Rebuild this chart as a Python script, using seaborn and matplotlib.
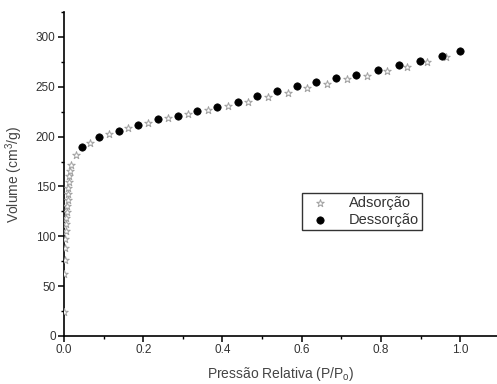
import numpy as np
import pandas as pd
import matplotlib
matplotlib.use("Agg")
import matplotlib.pyplot as plt
import seaborn as sns
from matplotlib.ticker import MultipleLocator

# Adsorption (open stars)
ads_p = [0.0005, 0.001, 0.0015, 0.002, 0.003, 0.004, 0.005, 0.006, 0.007, 0.008,
         0.009, 0.010, 0.011, 0.012, 0.013, 0.015, 0.017, 0.030, 0.066, 0.114,
         0.162, 0.213, 0.263, 0.313, 0.364, 0.414, 0.465, 0.515, 0.566, 0.614,
         0.664, 0.715, 0.765, 0.816, 0.866, 0.917, 0.965]
ads_v = [24, 62, 76, 88, 97, 105, 112, 118, 124, 130,
         136, 142, 148, 154, 160, 166, 172, 182, 194, 203,
         209, 214, 219, 223, 227, 231, 235, 240, 244, 249,
         253, 258, 261, 266, 270, 275, 280]

# Desorption (filled circles)
des_p = [0.045, 0.088, 0.139, 0.187, 0.238, 0.288, 0.336, 0.387, 0.439, 0.487,
         0.537, 0.588, 0.636, 0.687, 0.737, 0.793, 0.846, 0.899, 0.955, 1.0]
des_v = [190, 200, 206, 212, 218, 221, 226, 230, 235, 241,
         246, 251, 255, 259, 262, 267, 272, 276, 281, 286]

x_label = "Pressão Relativa (P/P$_o$)"
y_label = "Volume (cm$^3$/g)"
series_names = ["Adsorção", "Dessorção"]

sns.set_style("white")
plt.rcParams['font.family'] = ['Liberation Sans', 'DejaVu Sans']
plt.rcParams['mathtext.fontset'] = 'custom'
plt.rcParams['mathtext.rm'] = 'Liberation Sans'
plt.rcParams['mathtext.it'] = 'Liberation Sans'

fig = plt.figure(figsize=(4.97, 3.84), dpi=100)
ax = fig.add_axes([64/497, 48/384, 433/497, 324/384])

df_a = pd.DataFrame({"p": ads_p, "v": ads_v})
df_d = pd.DataFrame({"p": des_p, "v": des_v})

sns.scatterplot(data=df_a, x="p", y="v", ax=ax, marker="*", s=32,
                facecolor="white", edgecolor="#a0a0a0", linewidth=0.7,
                label=series_names[0], zorder=3)
sns.scatterplot(data=df_d, x="p", y="v", ax=ax, marker="o", s=28,
                color="black", edgecolor="black", linewidth=0.5,
                label=series_names[1], zorder=4)

ax.set_xlim(0, 1.093)
ax.set_ylim(0, 325)
ax.xaxis.set_major_locator(MultipleLocator(0.2))
ax.xaxis.set_minor_locator(MultipleLocator(0.1))
ax.yaxis.set_major_locator(MultipleLocator(50))
ax.yaxis.set_minor_locator(MultipleLocator(25))
ax.set_xticks([0, 0.2, 0.4, 0.6, 0.8, 1.0])
ax.set_xticklabels(["0.0", "0.2", "0.4", "0.6", "0.8", "1.0"])

for s in ["top", "right"]:
    ax.spines[s].set_visible(False)
for s in ["left", "bottom"]:
    ax.spines[s].set_linewidth(1.2)
    ax.spines[s].set_color("black")

ax.tick_params(axis="both", which="major", direction="out", length=4, width=1.1,
               labelsize=8.5, colors="black", labelcolor="#333333", pad=2)
ax.tick_params(axis="both", which="minor", direction="out", length=2.5, width=1.0,
               colors="black")
ax.tick_params(bottom=True, left=True, which="both")

ax.set_xlabel(x_label, fontsize=10, color="#444444", labelpad=6)
ax.set_ylabel(y_label, fontsize=10, color="#444444", labelpad=8)

leg = ax.legend(loc="upper left", bbox_to_anchor=(0.55, 0.441), frameon=True,
                fancybox=False, edgecolor="black", fontsize=10.5,
                handletextpad=1.0, borderpad=0.2, labelspacing=0.2,
                handlelength=2.0, borderaxespad=0)
leg.get_frame().set_linewidth(1.0)
for t in leg.get_texts():
    t.set_color("#333333")

fig.savefig("out.png", dpi=100)
